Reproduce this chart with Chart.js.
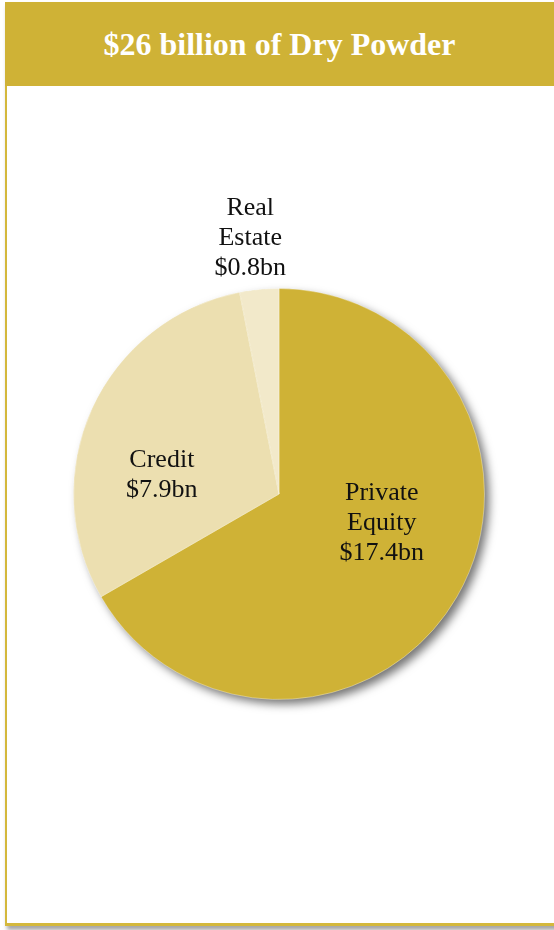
<!DOCTYPE html>
<html>
<head>
<meta charset="utf-8">
<script src="https://cdn.jsdelivr.net/npm/chart.js@4/dist/chart.umd.min.js"></script>
<style>
  html, body { margin: 0; padding: 0; background: #fff; }
  body { width: 554px; height: 930px; position: relative; overflow: hidden; }
  .frame {
    position: absolute; left: 5px; top: 2px; width: 560px; height: 921px;
    border-left: 2px solid #d4b83c; border-bottom: 3px solid #d4b83c;
    box-shadow: 2px 4px 4px rgba(0,0,0,0.35);
    background: #fff;
  }
  .head {
    position: absolute; left: 5px; top: 2px; width: 549px; height: 84px;
    background: #cfb236; color: #fff;
    font: bold 32px "Liberation Serif", "Times New Roman", serif;
    text-align: center; line-height: 84px;
  }
  #wrap { position: absolute; left: 0; top: 0; width: 554px; height: 930px; }
</style>
</head>
<body>
<div class="frame"></div>
<div class="head">$26 billion of Dry Powder</div>
<div id="wrap"><canvas id="pie"></canvas></div>
<script>
const categories = ["Private Equity", "Credit", "Real Estate"];
const values     = [17.4, 7.9, 0.8];
const labelLines = [["Private", "Equity", "$17.4bn"], ["Credit", "$7.9bn"], ["Real", "Estate", "$0.8bn"]];
const colors     = ["#cfb236", "#ecdfb0", "#f2e9ca"];

// label anchor, relative to pie centre, in units of radius
const labelPos = [[0.5, 0.14], [-0.57, -0.09], [-0.14, -1.245]];

// ── Shadow under the whole pie ──
const pieShadow = {
  id: "pieShadow",
  beforeDatasetsDraw(chart) {
    const arc = chart.getDatasetMeta(0).data[0];
    if (!arc) return;
    const ctx = chart.ctx;
    ctx.save();
    ctx.shadowColor = "rgba(0,0,0,0.55)";
    ctx.shadowBlur = 10;
    ctx.shadowOffsetX = 5;
    ctx.shadowOffsetY = 5;
    ctx.fillStyle = "#cfb236";
    ctx.beginPath();
    ctx.arc(arc.x, arc.y, arc.outerRadius - 0.5, 0, Math.PI * 2);
    ctx.fill();
    ctx.restore();
  }
};

// ── Slice labels ──
const sliceLabels = {
  id: "sliceLabels",
  afterDatasetsDraw(chart) {
    const arc = chart.getDatasetMeta(0).data[0];
    const ctx = chart.ctx;
    const lh = 30;
    ctx.save();
    ctx.font = '26px "Liberation Serif", "Times New Roman", serif';
    ctx.fillStyle = "#111";
    ctx.textAlign = "center";
    ctx.textBaseline = "middle";
    labelLines.forEach((lines, i) => {
      const cx = arc.x + labelPos[i][0] * arc.outerRadius;
      const cy = arc.y + labelPos[i][1] * arc.outerRadius;
      const y0 = cy - (lines.length - 1) * lh / 2;
      lines.forEach((t, j) => ctx.fillText(t, cx, y0 + j * lh));
    });
    ctx.restore();
  }
};

new Chart(document.getElementById("pie"), {
  type: "pie",
  data: {
    labels: categories,
    datasets: [{
      data: values,
      backgroundColor: colors,
      borderColor: "rgba(255,255,255,0.35)",
      borderWidth: 1,
    }],
  },
  options: {
    responsive: true, maintainAspectRatio: false,
    animation: false,
    layout: { padding: { left: 73, right: 69, top: 288, bottom: 230 } },
    plugins: { legend: { display: false }, tooltip: { enabled: false } },
  },
  plugins: [pieShadow, sliceLabels],
});
</script>
</body>
</html>
